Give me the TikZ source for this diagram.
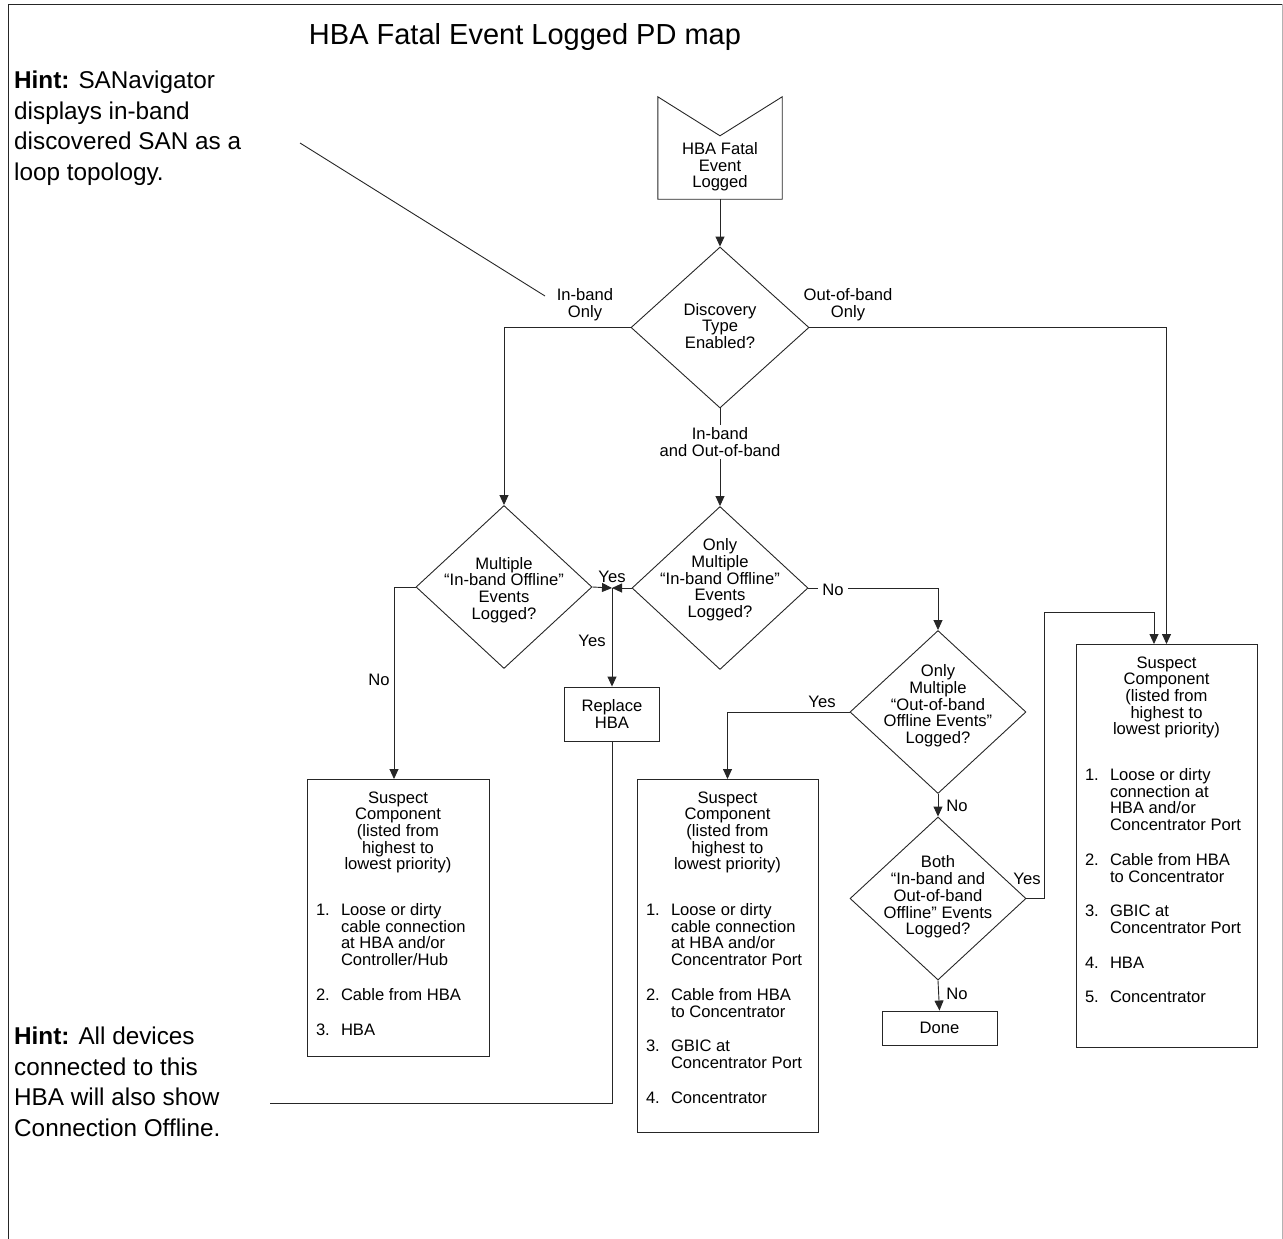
\documentclass[tikz,border=0pt]{standalone}
\usepackage{fontspec}
\setmainfont{Liberation Sans}
\usetikzlibrary{arrows.meta,shapes.geometric,calc}

\newcommand{\smallfs}{\fontsize{16.6}{16.7}\selectfont}
\newcommand{\hintfs}{\fontsize{24.3}{30.5}\selectfont}
\newcommand{\titlefs}{\fontsize{29}{34}\selectfont}
\newcommand{\lstitem}[3][18pt]{\par\vspace{#1}\noindent\hangindent=34pt\hangafter=1\makebox[34pt][l]{\hspace{9pt}#2}#3\par}
\newcommand{\suspectbox}[3]{\parbox[t][#1][t]{#2}{\smallfs\vspace*{12pt}{\centering Suspect\\Component\\(listed from\\highest to\\lowest priority)\par}\raggedright #3}}

\tikzset{
  ln/.style={line width=0.9pt, draw=black!85},
  arr/.style={ln, -{Triangle[length=10pt,width=9pt]}},
  dia/.style={diamond, ln, minimum width=176pt, minimum height=163pt, inner sep=0pt},
  txt/.style={font=\smallfs, align=center, inner sep=0pt},
  lbl/.style={font=\smallfs, inner sep=1.5pt},
  boxst/.style={ln, inner sep=0pt},
  hint/.style={font=\hintfs, align=left, inner sep=0pt, anchor=north west},
}

\begin{document}
\begin{tikzpicture}[x=1pt,y=-1pt]
\useasboundingbox (0,0) rectangle (1283,1239);
% frame
\draw[ln] (8,1239) -- (8,4) -- (1282,4);
\draw[gray!60, line width=0.8pt] (1282,4) -- (1282,1239);

% title and hints
\node[font=\titlefs, inner sep=0pt, anchor=base] (title) at (525,45) {HBA Fatal Event Logged PD map};
\node[hint] (hint1) at (14,71) {\textbf{Hint:} SANavigator\\displays in-band\\discovered SAN as a\\loop topology.};
\node[hint] (hint2) at (14,1027) {\textbf{Hint:} All devices\\connected to this\\HBA will also show\\Connection Offline.};
\coordinate (h1a) at (300,143);
\coordinate (h1b) at (545,296);
\coordinate (h2end) at (270,1103);

% start node
\node[minimum width=124pt, minimum height=102pt, inner sep=0pt] (start) at (720,148) {};
\draw[ln] (start.north west) -- ($(start.north)+(0,39)$) -- (start.north east) -- (start.south east) -- (start.south west) -- cycle;
\node[txt] (startt) at (720,167) {HBA Fatal\\Event\\Logged};

% diamonds
\node[dia, minimum width=178pt, minimum height=161pt] (d0) at (720,327.5) {};
\node[txt] (d0t) at (720,326) {Discovery\\Type\\Enabled?};
\node[dia] (d1) at (504,587) {};
\node[txt] (d1t) at (504,590) {Multiple\\“In-band Offline”\\Events\\Logged?};
\node[dia] (d2) at (720,588) {};
\node[txt] (d2t) at (720,580) {Only\\Multiple\\“In-band Offline”\\Events\\Logged?};
\node[dia] (d3) at (938,712) {};
\node[txt] (d3t) at (938,706) {Only\\Multiple\\“Out-of-band\\Offline Events”\\Logged?};
\node[dia] (d4) at (938,898.5) {};
\node[txt] (d4t) at (938,897) {Both\\“In-band and\\Out-of-band\\Offline” Events\\Logged?};

% boxes
\node[boxst, draw, minimum width=95pt, minimum height=54pt, font=\smallfs, align=center] (rep) at (612,714) {Replace\\HBA};
\node[boxst, draw, minimum width=115pt, minimum height=34pt, font=\smallfs] (done) at (939.5,1028) {Done};
\node[boxst, draw, anchor=north] (lbox) at (398,779) {\suspectbox{277pt}{182pt}{%
  \lstitem[29pt]{1.}{Loose or dirty\newline cable connection\newline at HBA and/or\newline Controller/Hub}
  \lstitem{2.}{Cable from HBA}
  \lstitem{3.}{HBA}}};
\node[boxst, draw, anchor=north] (mbox) at (727.5,779) {\suspectbox{353pt}{181pt}{%
  \lstitem[29pt]{1.}{Loose or dirty\newline cable connection\newline at HBA and/or\newline Concentrator Port}
  \lstitem{2.}{Cable from HBA\newline to Concentrator}
  \lstitem{3.}{GBIC at\newline Concentrator Port}
  \lstitem{4.}{Concentrator}}};
\node[boxst, draw, anchor=north] (rbox) at (1166.5,644) {\suspectbox{403pt}{181pt}{%
  \lstitem[29pt]{1.}{Loose or dirty\newline connection at\newline HBA and/or\newline Concentrator Port}
  \lstitem{2.}{Cable from HBA\newline to Concentrator}
  \lstitem{3.}{GBIC at\newline Concentrator Port}
  \lstitem{4.}{HBA}
  \lstitem{5.}{Concentrator}}};

% junction and loop helper coordinates
\coordinate (j) at (612,588);
\coordinate (lp1) at (1044,612);

% connectors
\draw[ln] (h1a) -- (h1b);
\draw[arr] (start.south) -- (d0.north);
\draw[arr] (d0.west) -| (d1.north);
\draw[arr] (d0.east) -| (rbox.north);
\draw[arr] (d0.south) -- (d2.north);
\draw[arr] (d1.east) -- (j);
\draw[arr] (d2.west) -- (j);
\draw[arr] (j) -- (rep.north);
\draw[arr] (d1.west) -| ([xshift=-4pt]lbox.north);
\draw[arr] (d2.east) -| (d3.north);
\draw[arr] (d3.west) -| (mbox.north);
\draw[arr] (d3.south) -- (d4.north);
\draw[arr] (d4.east) -| (lp1) -| ([xshift=-12.5pt]rbox.north);
\draw[arr] (d4.south) -- (done.north);
\draw[ln] (rep.south) |- (h2end);

% labels
\node[lbl, align=center] (lInOnly) at (585,305) {In-band\\Only};
\node[lbl, align=center] (lOutOnly) at (848,305) {Out-of-band\\Only};
\node[lbl, align=center, fill=white, inner ysep=3pt] (lBoth) at (720,442) {In-band\\and Out-of-band};
\node[lbl] (lNo1) at (379,680) {No};
\node[lbl] (lYes1) at (612,577) {Yes};
\node[lbl] (lYes2) at (592,641) {Yes};
\node[lbl, fill=white, inner xsep=4pt] (lNo2) at (833,590) {No};
\node[lbl] (lYes3) at (822,702) {Yes};
\node[lbl] (lNo3) at (957,806) {No};
\node[lbl] (lYes4) at (1027,879) {Yes};
\node[lbl] (lNo4) at (957,994) {No};
\end{tikzpicture}
\end{document}
